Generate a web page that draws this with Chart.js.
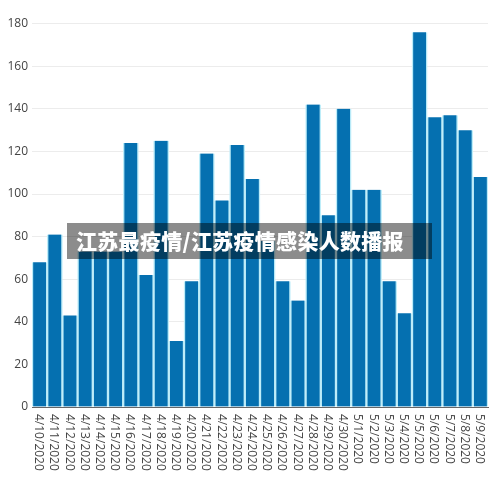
<!DOCTYPE html>
<html>
<head>
<meta charset="utf-8">
<script src="https://cdn.jsdelivr.net/npm/chart.js@4"></script>
<style>
    html, body { margin: 0; padding: 0; background: #fff; }
    #wrap { width: 500px; height: 483px; }
</style>
</head>
<body>
<div id="wrap"><canvas id="casesChart"></canvas></div>
<script>
// Chart data
const dates = [
    '4/10/2020', '4/11/2020', '4/12/2020', '4/13/2020', '4/14/2020', '4/15/2020',
    '4/16/2020', '4/17/2020', '4/18/2020', '4/19/2020', '4/20/2020', '4/21/2020',
    '4/22/2020', '4/23/2020', '4/24/2020', '4/25/2020', '4/26/2020', '4/27/2020',
    '4/28/2020', '4/29/2020', '4/30/2020', '5/1/2020', '5/2/2020', '5/3/2020',
    '5/4/2020', '5/5/2020', '5/6/2020', '5/7/2020', '5/8/2020', '5/9/2020'
];
const cases = [
    68, 81, 43, 73, 73, 73,
    124, 62, 125, 31, 59, 119,
    97, 123, 107, 78, 59, 50,
    142, 90, 140, 102, 102, 59,
    44, 176, 136, 137, 130, 108
];
const yTicks = [0, 20, 40, 60, 80, 100, 120, 140, 160, 180];
const overlayTitle = '江苏最疫情/江苏疫情感染人数播报';

// Draw rotated date labels (reading top to bottom) and the caption box
const overlayPlugin = {
    id: 'overlay',
    afterDraw(chart) {
        const ctx = chart.ctx;
        const xScale = chart.scales.x;
        const area = chart.chartArea;

        ctx.save();
        ctx.fillStyle = '#444';
        ctx.font = '12px "Open Sans", "DejaVu Sans", sans-serif';
        ctx.textAlign = 'left';
        ctx.textBaseline = 'middle';
        dates.forEach((d, i) => {
            const x = xScale.getPixelForValue(i);
            ctx.save();
            ctx.translate(x - 1, area.bottom + 7);
            ctx.rotate(Math.PI / 2);
            ctx.fillText(d, 0, 0);
            ctx.restore();
        });
        ctx.restore();

        // caption box
        ctx.save();
        ctx.fillStyle = 'rgba(0, 0, 0, 0.45)';
        ctx.fillRect(67, 223, 365, 36);
        ctx.fillStyle = '#fff';
        ctx.font = '900 21px "Noto Sans CJK SC", sans-serif';
        ctx.letterSpacing = '0.3px';
        ctx.textAlign = 'left';
        ctx.textBaseline = 'middle';
        ctx.fillText(overlayTitle, 76, 241);
        ctx.restore();
    }
};

const ctx = document.getElementById('casesChart').getContext('2d');
new Chart(ctx, {
    type: 'bar',
    data: {
        labels: dates,
        datasets: [{
            label: 'cases',
            data: cases,
            backgroundColor: '#0570b0',
            borderColor: '#bdedf9',
            borderWidth: { left: 1.5, right: 1.5, top: 0, bottom: 0 },
            barPercentage: 1,
            categoryPercentage: 1
        }]
    },
    options: {
        responsive: true,
        maintainAspectRatio: false,
        animation: false,
        layout: { padding: { top: 13, right: 12, left: 0, bottom: 0 } },
        plugins: {
            legend: { display: false },
            tooltip: { enabled: false }
        },
        scales: {
            x: {
                grid: { display: false },
                border: { display: true, color: '#666', width: 1 },
                ticks: { display: false },
                afterFit(scale) { scale.height = 76; }
            },
            y: {
                min: 0,
                max: 185,
                grid: { color: '#ececec', drawTicks: false },
                border: { display: false },
                ticks: {
                    padding: 4,
                    color: '#444',
                    font: { family: '"Open Sans", "DejaVu Sans", sans-serif', size: 12 }
                },
                afterBuildTicks(scale) {
                    scale.ticks = yTicks.map(v => ({ value: v }));
                },
                afterFit(scale) { scale.width = 32; }
            }
        }
    },
    plugins: [overlayPlugin]
});
</script>
</body>
</html>
